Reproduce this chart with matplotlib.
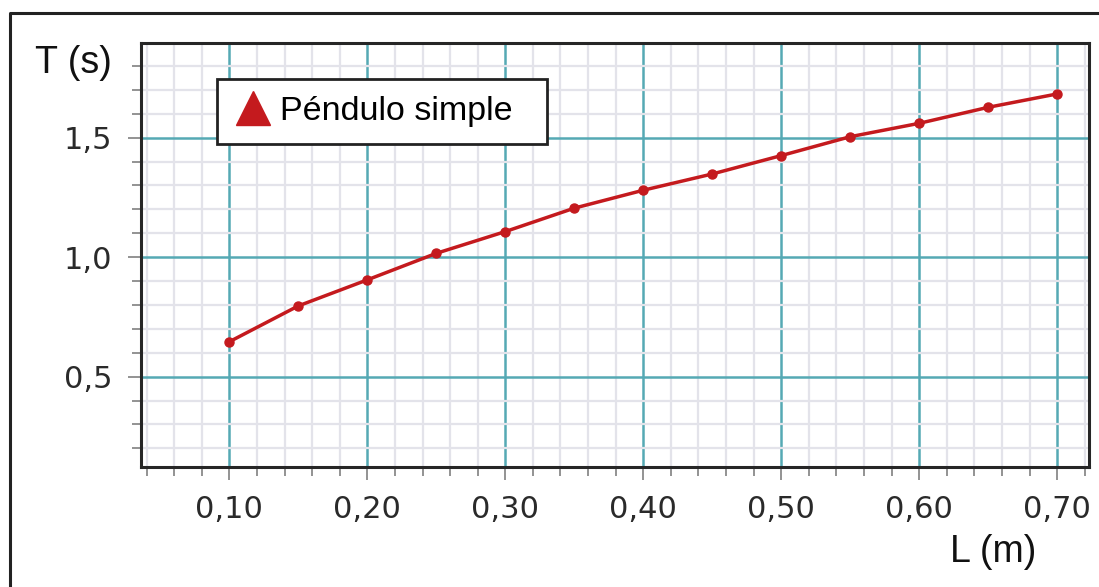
import matplotlib
matplotlib.use("Agg")
import matplotlib.pyplot as plt
from matplotlib.lines import Line2D
from matplotlib.ticker import MultipleLocator

# data
L = [0.10, 0.15, 0.20, 0.25, 0.30, 0.35, 0.40, 0.45, 0.50, 0.55, 0.60, 0.65, 0.70]
T = [0.646, 0.796, 0.905, 1.016, 1.107, 1.205, 1.280, 1.348, 1.425, 1.504, 1.560, 1.627, 1.683]
x_ticks = [0.10, 0.20, 0.30, 0.40, 0.50, 0.60, 0.70]
x_labels = ["0,10", "0,20", "0,30", "0,40", "0,50", "0,60", "0,70"]
y_ticks = [0.5, 1.0, 1.5]
y_labels = ["0,5", "1,0", "1,5"]
series_name = "Péndulo simple"

W, H = 1099, 587
RED = "#c41a1e"
TEAL = "#55a9b4"

fig = plt.figure(figsize=(W / 100, H / 100), dpi=100)
ax = fig.add_axes([141 / W, 1 - 467 / H, (1089 - 141) / W, (467 - 43) / H])

ax.plot(L, T, color=RED, lw=2.5, marker="o", ms=6.5, zorder=5)

ax.set_xlim(0.036, 0.723)
ax.set_ylim(0.122, 1.896)
ax.set_xticks(x_ticks)
ax.set_xticklabels(x_labels)
ax.set_yticks(y_ticks)
ax.set_yticklabels(y_labels)
ax.xaxis.set_minor_locator(MultipleLocator(0.02))
ax.yaxis.set_minor_locator(MultipleLocator(0.1))

ax.grid(which="minor", color="#e3e3ea", lw=1.6)
ax.grid(which="major", color=TEAL, lw=1.8)
ax.set_axisbelow(True)

ax.tick_params(which="major", direction="out", length=9.5, width=1.3, color="#8a8a8a",
               labelsize=22, labelcolor="#2a2a2a", pad=11)
ax.tick_params(which="minor", direction="out", length=6.5, width=1.3, color="#8a8a8a")
for s in ax.spines.values():
    s.set_color("#262626")
    s.set_linewidth(2.2)

# legend box spans x 217..547, y 79..141 px in the reference
handle = Line2D([], [], color=RED, marker="^", ms=25, ls="none")
leg = ax.legend([handle], [series_name], loc="upper left", mode="expand",
                bbox_to_anchor=(217 / W, 1 - 141 / H, 330 / W, 62 / H),
                bbox_transform=fig.transFigure,
                borderaxespad=0, fancybox=False, framealpha=1, edgecolor="#222222",
                prop={"family": "Liberation Sans", "size": 24.5},
                handlelength=1.1, handletextpad=0.25, borderpad=0.5)
leg.get_frame().set_linewidth(2)

fig.text(35 / W, 1 - 73 / H, "T (s)", family="Liberation Sans", fontsize=27, color="#111111")
fig.text(950 / W, 1 - 562 / H, "L (m)", family="Liberation Sans", fontsize=27, color="#111111")

# outer frame (only top and left edges fall inside the picture)
fig.add_artist(Line2D([10 / W, 10 / W, 1.0], [0.0, 1 - 13 / H, 1 - 13 / H],
                      transform=fig.transFigure, color="#222222", lw=2.2))

fig.savefig("out.png", dpi=100)
